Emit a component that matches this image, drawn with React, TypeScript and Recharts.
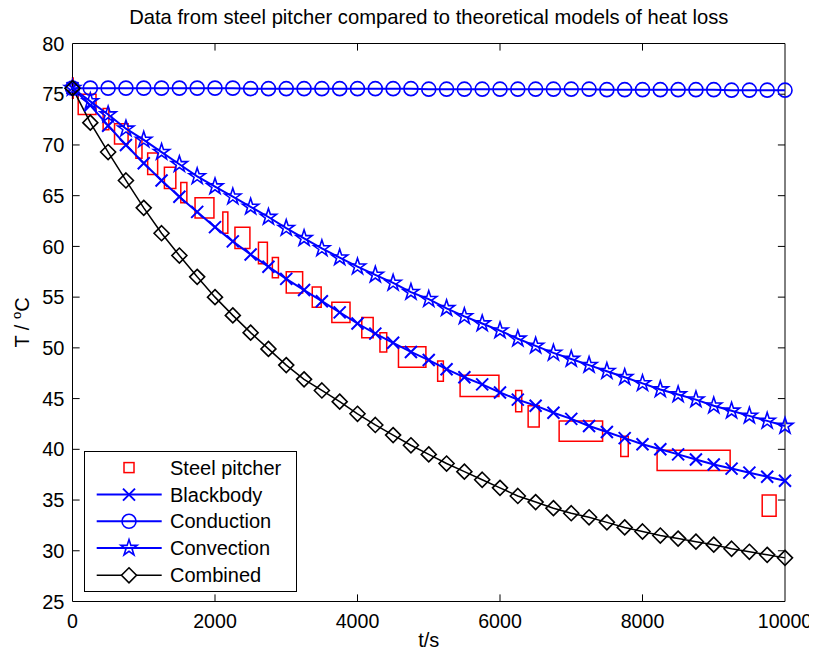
import React from 'react';
import { ComposedChart, Line, XAxis, YAxis, ReferenceArea, ReferenceLine, Legend } from 'recharts';

const times = [0, 250, 500, 750, 1000, 1250, 1500, 1750, 2000, 2250, 2500, 2750, 3000, 3250, 3500, 3750, 4000, 4250, 4500, 4750, 5000, 5250, 5500, 5750, 6000, 6250, 6500, 6750, 7000, 7250, 7500, 7750, 8000, 8250, 8500, 8750, 9000, 9250, 9500, 9750, 10000];
const blackbody = [75.6, 73.9, 71.9, 70.0, 68.2, 66.5, 64.9, 63.4, 61.9, 60.5, 59.2, 58.0, 56.8, 55.7, 54.6, 53.5, 52.4, 51.4, 50.5, 49.6, 48.8, 47.9, 47.1, 46.4, 45.6, 44.9, 44.3, 43.6, 43.0, 42.3, 41.7, 41.1, 40.5, 40.0, 39.5, 39.0, 38.5, 38.1, 37.7, 37.3, 36.9];
const conduction = [75.6, 75.6, 75.6, 75.6, 75.6, 75.6, 75.6, 75.6, 75.6, 75.6, 75.55, 75.55, 75.55, 75.55, 75.55, 75.55, 75.55, 75.55, 75.55, 75.55, 75.5, 75.5, 75.5, 75.5, 75.5, 75.5, 75.5, 75.5, 75.5, 75.5, 75.45, 75.45, 75.45, 75.45, 75.45, 75.45, 75.45, 75.4, 75.4, 75.4, 75.4];
const convection = [75.6, 74.3, 73.0, 71.6, 70.5, 69.3, 68.1, 66.9, 65.9, 64.9, 63.9, 62.9, 61.8, 60.8, 59.8, 58.9, 58.0, 57.2, 56.4, 55.5, 54.8, 53.9, 53.1, 52.4, 51.7, 50.9, 50.2, 49.5, 48.9, 48.3, 47.7, 47.1, 46.5, 45.9, 45.4, 44.9, 44.3, 43.8, 43.3, 42.8, 42.3];
const combined = [75.6, 72.2, 69.3, 66.5, 63.8, 61.3, 59.1, 57.0, 55.0, 53.2, 51.5, 49.9, 48.3, 46.9, 45.8, 44.7, 43.5, 42.4, 41.4, 40.4, 39.5, 38.6, 37.8, 37.0, 36.2, 35.4, 34.8, 34.2, 33.7, 33.3, 32.8, 32.3, 31.9, 31.5, 31.2, 30.9, 30.6, 30.2, 29.9, 29.6, 29.3];

// Steel pitcher measurement boxes: time range and temperature range
const pitcherStart = [0, 80, 430, 590, 890, 1055, 1290, 1520, 1720, 2110, 2280, 2610, 2805, 3000, 3365, 3640, 4060, 4315, 4575, 5125, 5440, 6220, 6395, 6830, 7695, 8205, 9680];
const pitcherEnd = [10, 330, 510, 780, 975, 1195, 1450, 1605, 1985, 2180, 2490, 2735, 2890, 3230, 3490, 3895, 4220, 4410, 4960, 5205, 5985, 6305, 6550, 7440, 7800, 9230, 9875];
const pitcherLow = [74.6, 73.0, 71.5, 70.1, 68.7, 67.1, 65.7, 64.3, 62.8, 61.3, 59.8, 58.3, 56.9, 55.4, 54.0, 52.5, 51.0, 49.6, 48.1, 46.7, 45.2, 43.7, 42.2, 40.8, 39.3, 37.9, 33.4];
const pitcherHigh = [76.6, 75.0, 73.6, 72.1, 70.7, 69.2, 67.8, 66.3, 64.8, 63.4, 61.9, 60.4, 58.9, 57.5, 56.0, 54.5, 53.0, 51.5, 50.1, 48.7, 47.3, 45.8, 44.3, 42.8, 41.3, 39.9, 35.5];

const xTicks = [0, 2000, 4000, 6000, 8000, 10000];
const yTicks = [25, 30, 35, 40, 45, 50, 55, 60, 65, 70, 75, 80];

const seriesNames = ['Steel pitcher', 'Blackbody', 'Conduction', 'Convection', 'Combined'];

const FONT = '"Liberation Sans", Arial, Helvetica, sans-serif';
const BLUE = '#0000ff';
const RED = '#ff0000';

const data = times.map((t, i) => ({
  t,
  blackbody: blackbody[i],
  conduction: conduction[i],
  convection: convection[i],
  combined: combined[i],
}));

const crossPath = (cx: number, cy: number, s = 6) =>
  `M${cx - s},${cy - s}L${cx + s},${cy + s}M${cx - s},${cy + s}L${cx + s},${cy - s}`;
const diamondPath = (cx: number, cy: number, s = 7.5) =>
  `M${cx},${cy - s}L${cx + s},${cy}L${cx},${cy + s}L${cx - s},${cy}Z`;
const starPath = (cx: number, cy: number, R = 8.5) => {
  const r = R * 0.382;
  let d = '';
  for (let k = 0; k < 10; k++) {
    const rad = k % 2 === 0 ? R : r;
    const a = -Math.PI / 2 + (k * Math.PI) / 5;
    d += `${k === 0 ? 'M' : 'L'}${cx + rad * Math.cos(a)},${cy + rad * Math.sin(a)}`;
  }
  return d + 'Z';
};

const CrossDot = (p: any) => (
  <path key={`x-${p.index}`} d={crossPath(p.cx, p.cy)} stroke={BLUE} strokeWidth={2} fill="none" />
);
const CircleDot = (p: any) => (
  <circle key={`o-${p.index}`} cx={p.cx} cy={p.cy} r={7} stroke={BLUE} strokeWidth={1.6} fill="none" />
);
const StarDot = (p: any) => (
  <path key={`s-${p.index}`} d={starPath(p.cx, p.cy)} stroke={BLUE} strokeWidth={1.6} fill="none" />
);
const DiamondDot = (p: any) => (
  <path key={`d-${p.index}`} d={diamondPath(p.cx, p.cy)} stroke="#000" strokeWidth={1.6} fill="none" />
);

const LegendBox = () => {
  const rowY = [16.6, 43.6, 70.3, 97, 124.3];
  const mx = 45;
  return (
    <svg width={213} height={141} style={{ display: 'block' }}>
      <rect x={0.5} y={0.5} width={212} height={140} fill="#fff" stroke="#000" strokeWidth={1} />
      <rect x={mx - 5} y={rowY[0] - 5} width={10} height={10} fill="none" stroke={RED} strokeWidth={1.5} />
      <line x1={12.7} x2={77.7} y1={rowY[1]} y2={rowY[1]} stroke={BLUE} strokeWidth={2} />
      <path d={crossPath(mx, rowY[1])} stroke={BLUE} strokeWidth={2} fill="none" />
      <line x1={12.7} x2={77.7} y1={rowY[2]} y2={rowY[2]} stroke={BLUE} strokeWidth={2} />
      <circle cx={mx} cy={rowY[2]} r={7} stroke={BLUE} strokeWidth={1.6} fill="none" />
      <line x1={12.7} x2={77.7} y1={rowY[3]} y2={rowY[3]} stroke={BLUE} strokeWidth={2} />
      <path d={starPath(mx, rowY[3])} stroke={BLUE} strokeWidth={1.6} fill="none" />
      <line x1={12.7} x2={77.7} y1={rowY[4]} y2={rowY[4]} stroke="#000" strokeWidth={1.5} />
      <path d={diamondPath(mx, rowY[4])} stroke="#000" strokeWidth={1.6} fill="#fff" />
      {seriesNames.map((n, i) => (
        <text key={n} x={86} y={rowY[i] + 7} fontSize={20} fontFamily={FONT} fill="#000">
          {n}
        </text>
      ))}
    </svg>
  );
};

export default function App() {
  const W = 809;
  const H = 640;
  const tickLenY = 0.7;
  const tickLenX = 100;
  return (
    <div style={{ position: 'relative', width: W, height: H }}>
      <style>{'.recharts-wrapper, .recharts-surface { overflow: visible !important; }'}</style>
      <ComposedChart
        width={W}
        height={H}
        data={data}
        margin={{ top: 35.5, right: 32, bottom: 16.5, left: 14.5 }}
      >
        <XAxis
          dataKey="t"
          type="number"
          domain={[0, 10000]}
          ticks={xTicks}
          interval={0}
          height={30}
          axisLine={false}
          tickLine={false}
          tickSize={0}
          tickMargin={12.5}
          tick={{ fontSize: 19.6, fill: '#000', fontFamily: FONT }}
        />
        <YAxis
          type="number"
          domain={[25, 80]}
          ticks={yTicks}
          interval={0}
          width={50}
          axisLine={false}
          tickLine={false}
          tickSize={0}
          tickMargin={8}
          tick={{ fontSize: 20, fill: '#000', fontFamily: FONT }}
        />
        {pitcherStart.map((s, i) => (
          <ReferenceArea
            key={`p-${i}`}
            x1={s}
            x2={pitcherEnd[i]}
            y1={pitcherLow[i]}
            y2={pitcherHigh[i]}
            fill="none"
            fillOpacity={0}
            stroke={RED}
            strokeWidth={1.5}
            ifOverflow="visible"
          />
        ))}
        <Line dataKey="blackbody" name="Blackbody" type="linear" stroke={BLUE} strokeWidth={2} dot={CrossDot} activeDot={false} isAnimationActive={false} />
        <Line dataKey="conduction" name="Conduction" type="linear" stroke={BLUE} strokeWidth={2} dot={CircleDot} activeDot={false} isAnimationActive={false} />
        <Line dataKey="convection" name="Convection" type="linear" stroke={BLUE} strokeWidth={2} dot={StarDot} activeDot={false} isAnimationActive={false} />
        <Line dataKey="combined" name="Combined" type="linear" stroke="#000" strokeWidth={1.5} dot={DiamondDot} activeDot={false} isAnimationActive={false} />
        <ReferenceArea x1={0} x2={10000} y1={25} y2={80} fill="none" fillOpacity={0} stroke="#000" strokeWidth={1} ifOverflow="visible" />
        {xTicks.slice(1, -1).map((t) => (
          <ReferenceLine key={`xb-${t}`} segment={[{ x: t, y: 25 }, { x: t, y: 25 + tickLenY }]} stroke="#000" strokeWidth={1} />
        ))}
        {xTicks.slice(1, -1).map((t) => (
          <ReferenceLine key={`xt-${t}`} segment={[{ x: t, y: 80 }, { x: t, y: 80 - tickLenY }]} stroke="#000" strokeWidth={1} />
        ))}
        {yTicks.slice(1, -1).map((v) => (
          <ReferenceLine key={`yl-${v}`} segment={[{ x: 0, y: v }, { x: tickLenX, y: v }]} stroke="#000" strokeWidth={1} />
        ))}
        {yTicks.slice(1, -1).map((v) => (
          <ReferenceLine key={`yr-${v}`} segment={[{ x: 10000, y: v }, { x: 10000 - tickLenX, y: v }]} stroke="#000" strokeWidth={1} />
        ))}
        <Legend
          layout="vertical"
          align="center"
          verticalAlign="middle"
          content={() => <LegendBox />}
          wrapperStyle={{ position: 'absolute', left: 76, top: 442.7, width: 213, height: 141 }}
        />
      </ComposedChart>
      <svg
        width={W}
        height={H}
        style={{ position: 'absolute', left: 0, top: 0, pointerEvents: 'none', overflow: 'visible' }}
      >
        <text x={420.75} y={16} textAnchor="middle" fontSize={20.2} fontFamily={FONT} fill="#000">
          Data from steel pitcher compared to theoretical models of heat loss
        </text>
        <text x={420.75} y={639} textAnchor="middle" fontSize={20} fontFamily={FONT} fill="#000">
          t/s
        </text>
        <text
          x={21}
          y={314.5}
          textAnchor="middle"
          fontSize={20}
          fontFamily={FONT}
          fill="#000"
          transform="rotate(-90, 21, 314.5)"
        >
          T / <tspan fontSize={13} dy={-8}>o</tspan><tspan dy={8}>C</tspan>
        </text>
      </svg>
    </div>
  );
}
